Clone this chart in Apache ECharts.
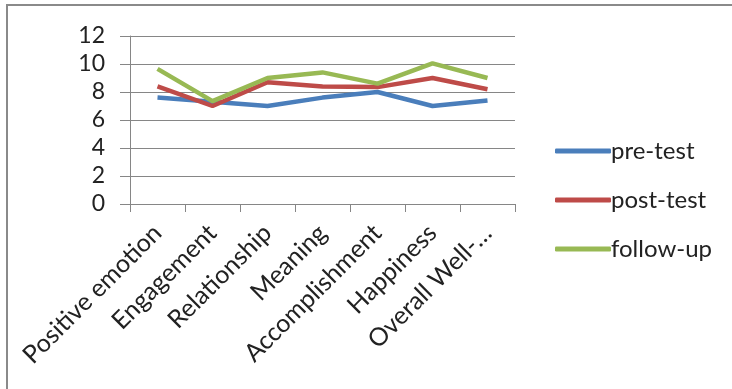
<!DOCTYPE html>
<html>
<head>
<meta charset="utf-8">
<script src="https://cdn.jsdelivr.net/npm/echarts@6/dist/echarts.min.js"></script>
<style>
  html, body { margin: 0; padding: 0; background: #fff; }
  #chart { width: 732px; height: 389px; }
</style>
</head>
<body>
<div id="chart"></div>
<script>
// Well-being dimensions measured at three time points
var categories = ['Positive emotion', 'Engagement', 'Relationship', 'Meaning', 'Accomplishment', 'Happiness', 'Overall Well-…'];
var preTest = [7.6, 7.3, 7.0, 7.6, 8.0, 7.0, 7.4];
var postTest = [8.4, 7.0, 8.7, 8.4, 8.35, 9.0, 8.2];
var followUp = [9.65, 7.35, 9.0, 9.4, 8.6, 10.05, 9.0];
var seriesNames = ['pre-test', 'post-test', 'follow-up'];
var yTicks = { min: 0, max: 12, interval: 2 };

var FONT = 'Lato';
var chart = echarts.init(document.getElementById('chart'));

function lineSeries(name, data, color) {
  return {
    name: name,
    type: 'line',
    data: data,
    symbol: 'none',
    itemStyle: { color: color },
    lineStyle: { color: color, width: 4.5 }
  };
}

chart.setOption({
  animation: false,
  textStyle: { fontFamily: FONT },
  graphic: [{
    type: 'rect',
    shape: { x: 7, y: 5, width: 760, height: 420 },
    style: { fill: 'none', stroke: '#8a8a8a', lineWidth: 2 },
    silent: true
  }],
  grid: { left: 130, right: 217, top: 36, bottom: 185 },
  legend: {
    orient: 'vertical',
    left: 550,
    top: 134,
    icon: 'roundRect',
    itemWidth: 56,
    itemHeight: 5,
    itemGap: 25,
    textStyle: { fontFamily: FONT, fontSize: 24, color: '#222', padding: [0, 0, 0, -5] },
    data: seriesNames
  },
  xAxis: {
    type: 'category',
    data: categories,
    boundaryGap: true,
    axisLine: { show: true, lineStyle: { color: '#868686', width: 1 } },
    axisTick: { show: true, length: 8, alignWithLabel: false, lineStyle: { color: '#868686' } },
    axisLabel: {
      rotate: 45,
      margin: 25,
      interval: 0,
      fontFamily: FONT,
      fontSize: 25,
      color: '#222'
    }
  },
  yAxis: {
    type: 'value',
    min: yTicks.min,
    max: yTicks.max,
    interval: yTicks.interval,
    axisLine: { show: true, lineStyle: { color: '#868686', width: 1 } },
    axisTick: { show: true, length: 10, lineStyle: { color: '#868686' } },
    axisLabel: { margin: 25, fontFamily: FONT, fontSize: 23, color: '#222' },
    splitLine: { show: true, lineStyle: { color: '#868686', width: 1 } }
  },
  series: [
    lineSeries(seriesNames[0], preTest, '#4a7ebb'),
    lineSeries(seriesNames[1], postTest, '#be4b48'),
    lineSeries(seriesNames[2], followUp, '#98b954')
  ]
});
</script>
</body>
</html>
